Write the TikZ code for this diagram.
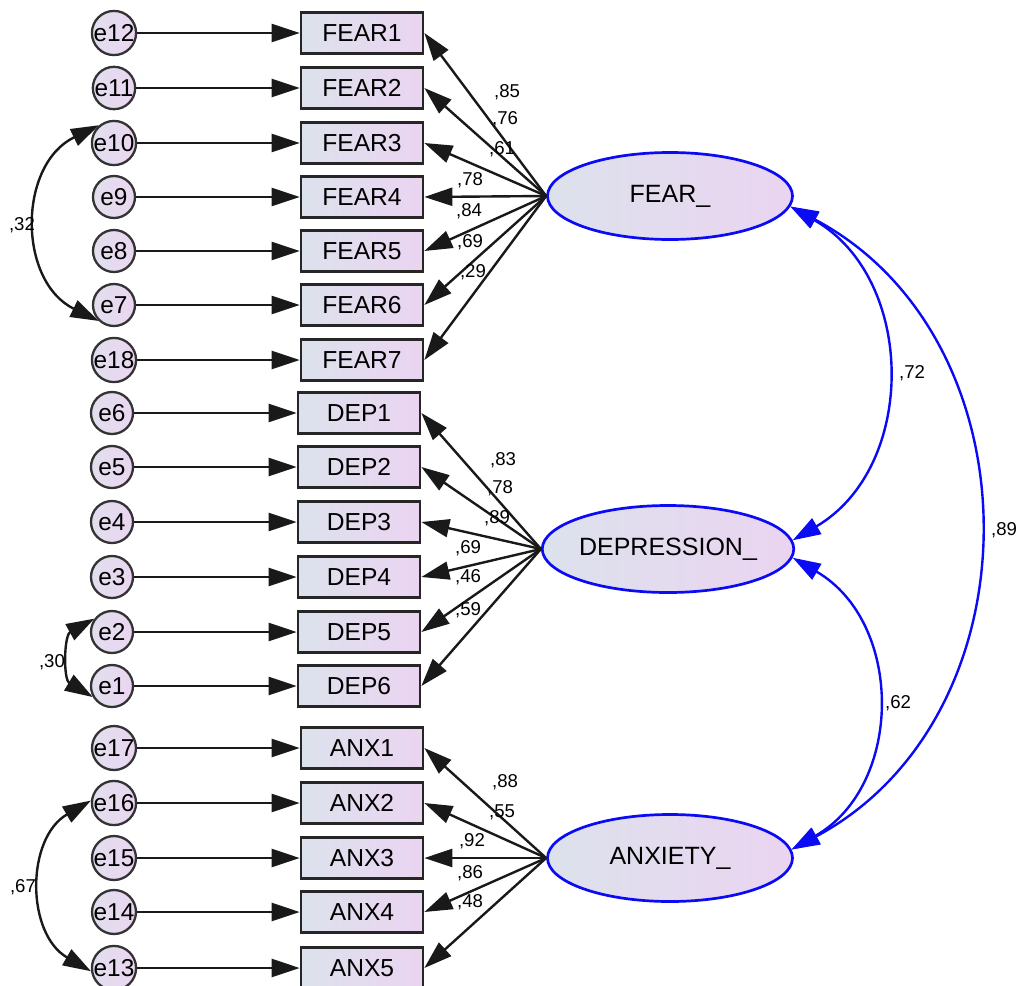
\documentclass[tikz,border=0pt]{standalone}
\usepackage{fontspec}
\setmainfont{Liberation Sans}
\usetikzlibrary{arrows.meta,shapes.geometric}
\definecolor{shL}{HTML}{DCE2EC}
\definecolor{shR}{HTML}{EBD4F1}
\definecolor{cirL}{HTML}{E2DEEE}
\definecolor{cirR}{HTML}{EAD6F1}
\definecolor{amosblue}{HTML}{0A0AF5}
\begin{document}
\begin{tikzpicture}[x=0.5pt,y=-0.5pt,
  obs/.style={draw=black!85, line width=1.35pt, left color=shL, right color=shR,
    minimum width=61pt, minimum height=20.5pt, inner sep=0pt,
    font=\fontsize{12.3}{14}\selectfont},
  err/.style={circle, draw=black!80, line width=1.15pt, left color=cirL, right color=cirR,
    minimum size=21pt, inner sep=0pt, font=\fontsize{12.2}{14}\selectfont},
  lat/.style={ellipse, draw=amosblue, line width=1.35pt, left color=shL, right color=shR,
    minimum width=122.5pt, minimum height=43.5pt, inner sep=0pt,
    font=\fontsize{12.5}{14}\selectfont},
  ld/.style={line width=1.2pt, draw=black!90, -{Triangle[length=14pt,width=9pt]}},
  cv/.style={line width=1.2pt, draw=black!90, {Triangle[length=14pt,width=9pt]}-{Triangle[length=14pt,width=9pt]}},
  bcv/.style={line width=1.2pt, draw=amosblue, {Triangle[length=14pt,width=9pt]}-{Triangle[length=14pt,width=9pt]}},
  lab/.style={font=\fontsize{9.3}{10}\selectfont, inner sep=0pt}
]
\useasboundingbox (0,0) rectangle (1016,985);
\clip (0,0) rectangle (1016,985);

% latent variables
\node[lat] (F) at (670,196) {FEAR\_};
\node[lat] (D) at (668,549) {DEPRESSION\_};
\node[lat] (A) at (670,858) {ANXIETY\_};

% FEAR items
\node[obs] (FEAR1) at (362,33) {FEAR1};
\node[obs] (FEAR2) at (362,88) {FEAR2};
\node[obs] (FEAR3) at (362,143) {FEAR3};
\node[obs] (FEAR4) at (362,197) {FEAR4};
\node[obs] (FEAR5) at (362,251) {FEAR5};
\node[obs] (FEAR6) at (362,305) {FEAR6};
\node[obs] (FEAR7) at (362,360) {FEAR7};
% DEP items
\node[obs] (DEP1) at (359,413) {DEP1};
\node[obs] (DEP2) at (359,467) {DEP2};
\node[obs] (DEP3) at (359,522) {DEP3};
\node[obs] (DEP4) at (359,577) {DEP4};
\node[obs] (DEP5) at (359,632) {DEP5};
\node[obs] (DEP6) at (359,686) {DEP6};
% ANX items
\node[obs] (ANX1) at (362,748) {ANX1};
\node[obs] (ANX2) at (362,803) {ANX2};
\node[obs] (ANX3) at (362,858) {ANX3};
\node[obs] (ANX4) at (362,912) {ANX4};
\node[obs] (ANX5) at (362,968) {ANX5};

% error terms
\node[err] (e12) at (114,33) {e12};
\node[err] (e11) at (114,88) {e11};
\node[err] (e10) at (114,143) {e10};
\node[err] (e9) at (114,197) {e9};
\node[err] (e8) at (114,251) {e8};
\node[err] (e7) at (114,305) {e7};
\node[err] (e18) at (114,360) {e18};
\node[err] (e6) at (112,413) {e6};
\node[err] (e5) at (112,467) {e5};
\node[err] (e4) at (112,522) {e4};
\node[err] (e3) at (112,577) {e3};
\node[err] (e2) at (112,632) {e2};
\node[err] (e1) at (112,686) {e1};
\node[err] (e17) at (114,748) {e17};
\node[err] (e16) at (114,803) {e16};
\node[err] (e15) at (114,858) {e15};
\node[err] (e14) at (114,912) {e14};
\node[err] (e13) at (114,968) {e13};

% error -> item
\foreach \e/\o in {e12/FEAR1,e11/FEAR2,e10/FEAR3,e9/FEAR4,e8/FEAR5,e7/FEAR6,e18/FEAR7,
  e6/DEP1,e5/DEP2,e4/DEP3,e3/DEP4,e2/DEP5,e1/DEP6,
  e17/ANX1,e16/ANX2,e15/ANX3,e14/ANX4,e13/ANX5}
  \draw[ld] (\e.east) -- (\o.west);

% loadings
\foreach \o in {FEAR1,FEAR2,FEAR3,FEAR4,FEAR5,FEAR6,FEAR7}
  \draw[ld] (F.west) -- (\o.east);
\foreach \o in {DEP1,DEP2,DEP3,DEP4,DEP5,DEP6}
  \draw[ld] (D.west) -- (\o.east);
\foreach \o in {ANX1,ANX2,ANX3,ANX4,ANX5}
  \draw[ld] (A.west) -- (\o.east);

% loading labels
\node[lab] (lf1) at (507,92) {,85};
\node[lab] (lf2) at (505,119) {,76};
\node[lab] (lf3) at (502,149) {,61};
\node[lab] (lf4) at (470,180) {,78};
\node[lab] (lf5) at (469,211) {,84};
\node[lab] (lf6) at (470,242) {,69};
\node[lab] (lf7) at (473,272) {,29};
\node[lab] (ld1) at (503,460) {,83};
\node[lab] (ld2) at (500,488) {,78};
\node[lab] (ld3) at (497,518) {,89};
\node[lab] (ld4) at (468,548) {,69};
\node[lab] (ld5) at (468,577) {,46};
\node[lab] (ld6) at (468,610) {,59};
\node[lab] (la1) at (505,782) {,88};
\node[lab] (la2) at (502,812) {,55};
\node[lab] (la3) at (472,841) {,92};
\node[lab] (la4) at (470,873) {,86};
\node[lab] (la5) at (470,902) {,48};

% error covariances
\draw[cv] (e10.130) to[bend right=64, looseness=1.18] (e7.226);
\node[lab] (c1) at (22,225) {,32};
\draw[cv] (e2.143) to[bend right=60, looseness=1.13] (e1.210);
\node[lab] (c2) at (52,662) {,30};
\draw[cv] (e16.174) to[bend right=60, looseness=1.13] (e13.188);
\node[lab] (c3) at (23,887) {,67};

% latent covariances
\draw[bcv] (F.-5) to[bend left=60, looseness=1.11] (D.4);
\node[lab] (c4) at (912,373) {,72};
\draw[bcv] (F.-5) to[bend left=62, looseness=1.12] (A.4);
\node[lab] (c5) at (1004,530) {,89};
\draw[bcv] (D.-4) to[bend left=60, looseness=1.13] (A.4);
\node[lab] (c6) at (898,703) {,62};
\end{tikzpicture}
\end{document}
